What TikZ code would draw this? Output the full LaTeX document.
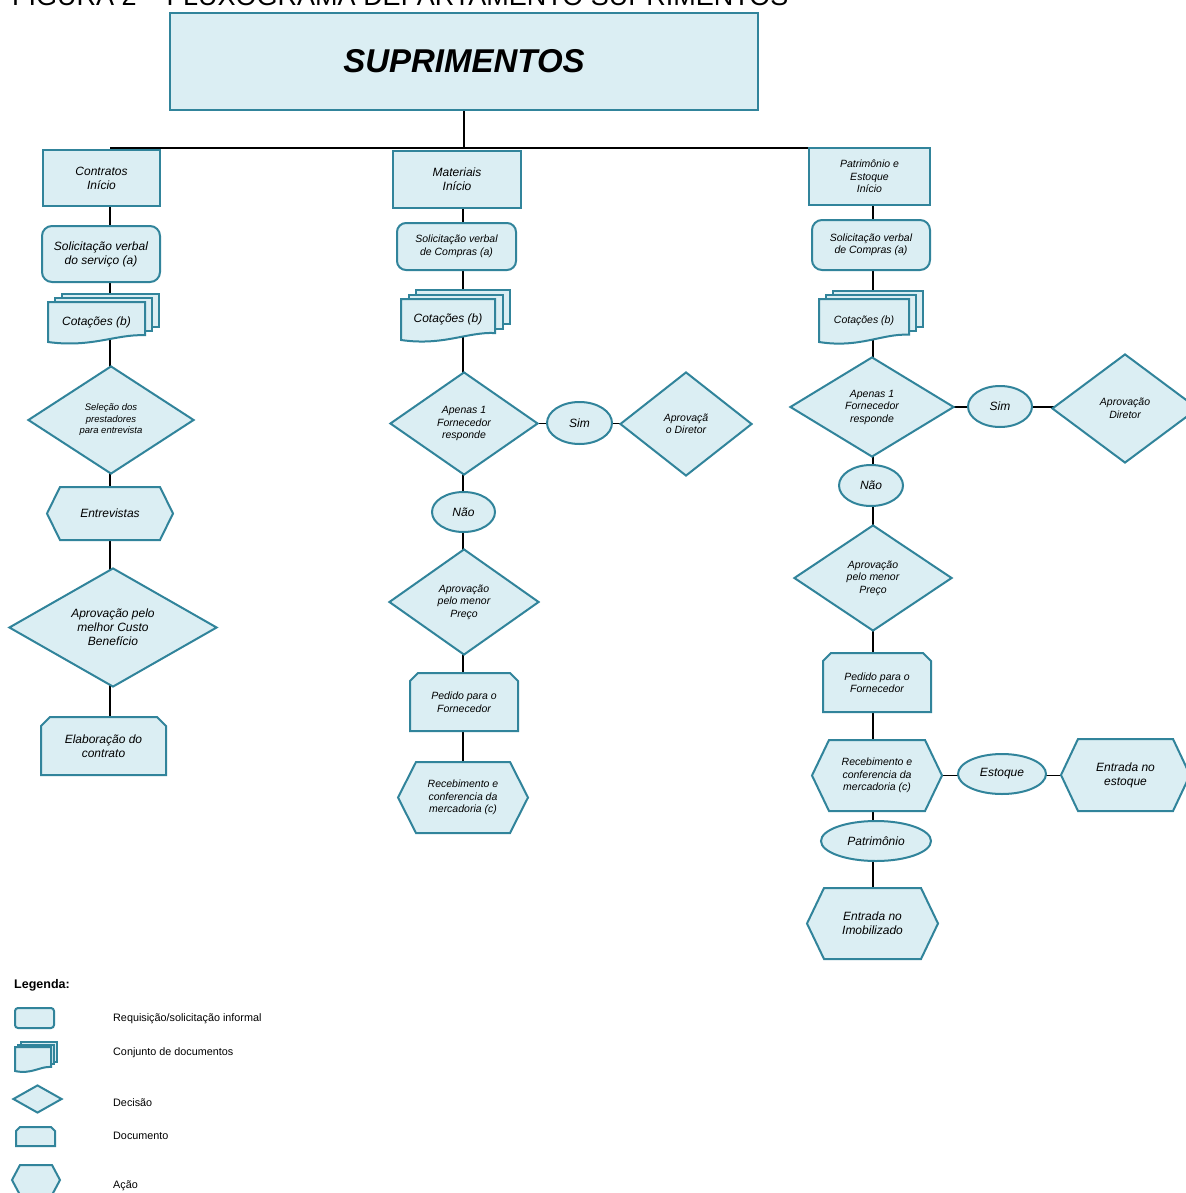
\documentclass[tikz,border=0pt]{standalone}
\usepackage{fontspec}
\setmainfont{Liberation Sans}
\usetikzlibrary{shapes.geometric}
\definecolor{fillc}{RGB}{219,238,243}
\definecolor{bordc}{RGB}{49,132,155}
\pgfdeclarelayer{background}
\pgfdeclarelayer{mid}
\pgfsetlayers{background,mid,main}
\tikzset{
 shp/.style={draw=bordc, fill=fillc, line width=2pt, line join=miter},
 conn/.style={draw=black, line width=1.5pt},
 txt/.style={align=center, inner sep=0pt, outer sep=0pt},
 boxn/.style={shp, rectangle, inner sep=0pt, align=center},
 rnd/.style={boxn, rounded corners=10pt},
 dia/.style={shp, diamond, aspect=1.5, inner sep=0pt, align=center},
 ell/.style={shp, ellipse, inner sep=0pt, align=center},
 f12/.style={font=\fontsize{12}{14}\selectfont\itshape},
 f11/.style={font=\fontsize{10.5}{12.5}\selectfont\itshape},
 f10/.style={font=\fontsize{10.5}{12.5}\selectfont\itshape},
 f9/.style={font=\fontsize{9.5}{11.5}\selectfont\itshape},
 leg/.style={anchor=west, inner sep=0pt, font=\fontsize{10.8}{12}\selectfont},
}
% multi-document: name, x0, ytop, x1, ybot, dx, dy, fontstyle, text
\newcommand\mdocshape[9]{%
 \begin{pgfonlayer}{mid}
  \draw[shp] ({#2+2*#6},{#3-2*#7}) rectangle ({#4+2*#6},{#5-0.17*(#5-#3)-2*#7});
  \draw[shp] ({#2+#6},{#3-#7}) rectangle ({#4+#6},{#5-0.17*(#5-#3)-#7});
  \draw[shp] (#2,#5) -- (#2,#3) -- (#4,#3) -- ({#4},{#5-0.17*(#5-#3)})
     .. controls ({#4-0.3*(#4-#2)},{#5-0.2*(#5-#3)}) and ({#2+0.45*(#4-#2)},{#5+0.15*(#5-#3)}) .. (#2,#5) -- cycle;
 \end{pgfonlayer}
 \node[txt,#8] (#1) at ({(#2+#4)/2},{(#3+#5)/2}) {#9};}
% hexagon: name, cx, cy, half width, half height, slant, fontstyle, text
\newcommand\hexshape[8]{%
 \begin{pgfonlayer}{mid}
  \draw[shp] ({#2-#4},{#3}) -- ({#2-#4+#6},{#3-#5}) -- ({#2+#4-#6},{#3-#5}) -- ({#2+#4},{#3})
     -- ({#2+#4-#6},{#3+#5}) -- ({#2-#4+#6},{#3+#5}) -- cycle;
 \end{pgfonlayer}
 \node[txt,#7] (#1) at (#2,#3) {#8};}
% document (chamfered top): name, x0, y0, x1, y1, chamfer, fontstyle, text
\newcommand\docshape[8]{%
 \begin{pgfonlayer}{mid}
  \draw[shp] (#2,#5) -- ({#2},{#3+#6}) -- ({#2+#6},{#3}) -- ({#4-#6},{#3}) -- ({#4},{#3+#6}) -- (#4,#5) -- cycle;
 \end{pgfonlayer}
 \node[txt,#7] (#1) at ({(#2+#4)/2},{(#3+#5)/2}) {#8};}
\begin{document}
\begin{tikzpicture}[x={(1pt,0)}, y={(0,-1pt)}]
\useasboundingbox (0,0) rectangle (1185,1193);

\node[anchor=base west, inner sep=0pt, font=\fontsize{27}{29}\selectfont] (hdr) at (12,6) {FIGURA 2 – FLUXOGRAMA DEPARTAMENTO SUPRIMENTOS};
\node[boxn, minimum width=588pt, minimum height=97pt, font=\fontsize{33}{36}\selectfont\bfseries\itshape] (title) at (464,61.5) {SUPRIMENTOS};

% left column
\node[boxn,f12,minimum width=117pt,minimum height=56pt] (contr) at (101.5,178) {Contratos\\Início};
\node[rnd,f12,minimum width=118pt,minimum height=56pt] (solL) at (101,254) {Solicitação verbal\\do serviço (a)};
\mdocshape{cotL}{48}{302}{145}{342}{7}{4}{f12}{Cotações (b)}
\node[dia,f9,minimum width=166pt,minimum height=108pt] (selL) at (111,420) {Seleção dos\\prestadores\\para entrevista};
\hexshape{entL}{110}{513.5}{63}{26.5}{13}{f12}{Entrevistas}
\node[dia,f12,minimum width=208pt,minimum height=119pt] (aprL) at (113,627.5) {Aprovação pelo\\melhor Custo\\Benefício};
\docshape{elab}{41}{717}{166}{775}{9}{f12}{Elaboração do\\contrato}

% middle column
\node[boxn,f12,minimum width=128pt,minimum height=57pt] (mat) at (457,179.5) {Materiais\\Início};
\node[rnd,f10,rounded corners=9pt,minimum width=119pt,minimum height=47pt] (solM) at (456.5,246.5) {Solicitação verbal\\de Compras (a)};
\mdocshape{cotM}{401}{299}{495}{340}{7.5}{4.5}{f12}{Cotações (b)}
\node[dia,f11,minimum width=148pt,minimum height=103pt] (apM) at (464,423.5) {Apenas 1\\Fornecedor\\responde};
\node[ell,f12,minimum width=65pt,minimum height=42pt] (simM) at (579.5,423) {Sim};
\node[dia,f10,minimum width=132pt,minimum height=104pt] (dirM) at (686,424) {Aprovaçã\\o Diretor};
\node[ell,f12,minimum width=63pt,minimum height=40pt] (naoM) at (463.5,512) {Não};
\node[dia,f11,minimum width=150pt,minimum height=106pt] (menM) at (464,602) {Aprovação\\pelo menor\\Preço};
\docshape{pedM}{410}{673}{518}{731}{8}{f11}{Pedido para o\\Fornecedor}
\hexshape{recM}{463}{797.5}{65}{35.5}{18}{f11}{Recebimento e\\conferencia da\\mercadoria (c)}

% right column
\node[boxn,f11,minimum width=121pt,minimum height=57pt] (pat) at (869.5,176.5) {Patrimônio e\\Estoque\\Início};
\node[rnd,f10,minimum width=118pt,minimum height=50pt] (solR) at (871,245) {Solicitação verbal\\de Compras (a)};
\mdocshape{cotR}{819}{299}{909}{342}{7}{4}{f11}{Cotações (b)}
\node[dia,f11,minimum width=164pt,minimum height=100pt] (apR) at (872,407) {Apenas 1\\Fornecedor\\responde};
\node[ell,f12,minimum width=64pt,minimum height=41pt] (simR) at (1000,406.5) {Sim};
\node[dia,f10,minimum width=146pt,minimum height=109pt] (dirR) at (1125,408.5) {Aprovação\\Diretor};
\node[ell,f12,minimum width=64pt,minimum height=41pt] (naoR) at (871,485.5) {Não};
\node[dia,f11,minimum width=158pt,minimum height=106pt] (menR) at (873,578) {Aprovação\\pelo menor\\Preço};
\docshape{pedR}{823}{653}{931}{712}{8}{f11}{Pedido para o\\Fornecedor}
\hexshape{recR}{877}{775.5}{65}{35.5}{17}{f11}{Recebimento e\\conferencia da\\mercadoria (c)}
\node[ell,f12,minimum width=88pt,minimum height=40pt] (estR) at (1002,774) {Estoque};
\hexshape{entE}{1125.5}{775}{64.5}{36}{17}{f12}{Entrada no\\estoque}
\node[ell,f12,minimum width=110pt,minimum height=40pt] (patR) at (876,841) {Patrimônio};
\hexshape{imob}{872.5}{923.5}{65.5}{35.5}{17}{f12}{Entrada no\\Imobilizado}

% legend
\node[anchor=west,inner sep=0pt,font=\fontsize{12.5}{14}\selectfont\bfseries] (legt) at (14,985) {Legenda:};
\node[rnd,rounded corners=3pt,minimum width=39pt,minimum height=20pt] (lg1) at (34.5,1018) {};
\mdocshape{lg2}{15}{1047}{51}{1071}{3}{2.5}{f10}{}
\node[dia,minimum width=49pt,minimum height=28pt] (lg3) at (37.5,1099) {};
\docshape{lg4}{16}{1127}{55}{1146}{4}{f10}{}
\hexshape{lg5}{36}{1180}{24}{15}{8}{f10}{}
\node[leg] (tx1) at (113,1019) {Requisição/solicitação informal};
\node[leg] (tx2) at (113,1053) {Conjunto de documentos};
\node[leg] (tx3) at (113,1103) {Decisão};
\node[leg] (tx4) at (113,1136) {Documento};
\node[leg] (tx5) at (113,1186) {Ação};

% connectors
\begin{pgfonlayer}{background}
 \fill[white] (0,0) rectangle (1185,1193);
 \coordinate (cL) at (110,148);
 \coordinate (cM) at (463,148);
 \coordinate (cR) at (873,148);
 \draw[conn] (title.south) -- (title.south |- cM);
 \draw[conn] (cL) -- (cR);
 \foreach \a/\b in {contr/solL, solL/cotL, cotL/selL, selL/entL, entL/aprL, aprL/elab}
   \draw[conn] (\a.center -| cL) -- (\b.center -| cL);
 \foreach \a/\b in {mat/solM, solM/cotM, cotM/apM, apM/naoM, naoM/menM, menM/pedM, pedM/recM}
   \draw[conn] (\a.center -| cM) -- (\b.center -| cM);
 \foreach \a/\b in {pat/solR, solR/cotR, cotR/apR, apR/naoR, naoR/menR, menR/pedR, pedR/recR, recR/patR, patR/imob}
   \draw[conn] (\a.center -| cR) -- (\b.center -| cR);
 \draw[conn] (apM.center) -- (apM.center -| dirM.center);
 \draw[conn] (apR.center) -- (apR.center -| dirR.center);
 \draw[conn] (recR.center) -- (recR.center -| entE.center);
\end{pgfonlayer}
\end{tikzpicture}
\end{document}
